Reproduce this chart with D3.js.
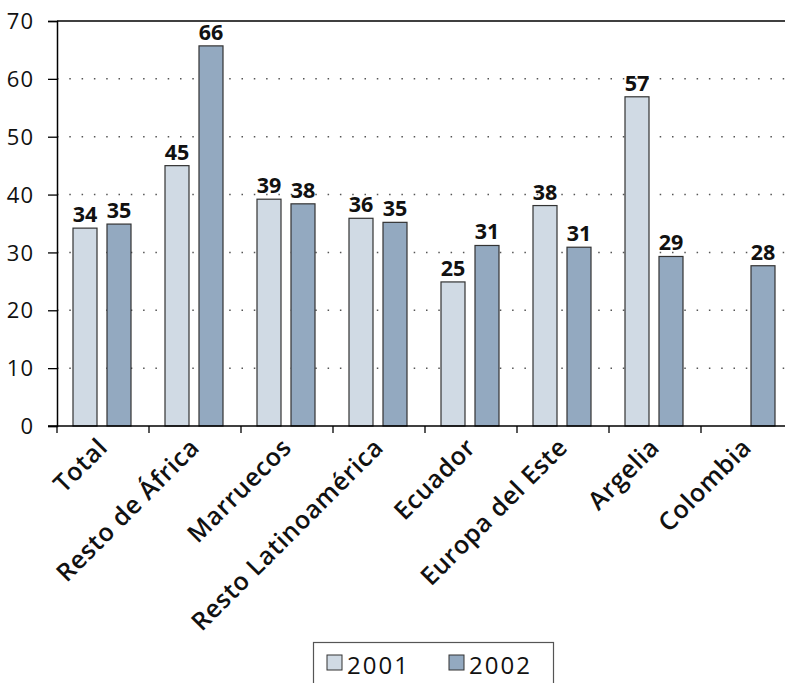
<!DOCTYPE html>
<html><head><meta charset="utf-8">
<script src="https://cdn.jsdelivr.net/npm/d3@7"></script>
<style>
html,body{margin:0;padding:0;background:#fff;}
svg{display:block;}
</style></head>
<body>
<svg id="chart" width="785" height="683"></svg>
<script>
const categories = ["Total","Resto de África","Marruecos","Resto Latinoamérica","Ecuador","Europa del Este","Argelia","Colombia"];
const values2001 = [34.2, 45.0, 39.2, 35.9, 24.9, 38.1, 56.9, null];
const values2002 = [34.9, 65.7, 38.4, 35.2, 31.2, 30.9, 29.3, 27.7];
const seriesNames = ["2001","2002"];
const yTicks = [0,10,20,30,40,50,60,70];
const colors = ["#d0dae4","#93a9c0"];

(function(){
const svg = d3.select("#chart");
const mLeft = 57, mTop = 21, mBottom = 426, band = 92;
const x = d3.scaleBand().domain(categories).range([mLeft, mLeft + band*categories.length]).paddingInner(0).paddingOuter(0);
const y = d3.scaleLinear().domain([0,70]).range([mBottom, mTop]);

// gridlines
svg.append("g").selectAll("line").data(yTicks.filter(t=>t>0 && t<70)).join("line")
  .attr("x1", mLeft).attr("x2", 785).attr("y1", d=>y(d)).attr("y2", d=>y(d))
  .attr("stroke","#555").attr("stroke-width",1.5).attr("stroke-dasharray","1.5,10.8");
// top border
svg.append("line").attr("x1", mLeft).attr("x2", 785).attr("y1", y(70)).attr("y2", y(70)).attr("stroke","#000").attr("stroke-width",1.5);

// y axis
const yAxis = d3.axisLeft(y).tickValues(yTicks).tickSize(9).tickPadding(14).tickFormat(d3.format("d"));
const gy = svg.append("g").attr("transform",`translate(${mLeft},0)`).call(yAxis);
gy.select(".domain").attr("stroke","#000").attr("stroke-width",1.5);
gy.selectAll(".tick line").attr("stroke","#000").attr("stroke-width",1.3);
gy.selectAll("text").attr("font-family","'Open Sans', sans-serif").attr("font-size",22).attr("letter-spacing","1px")
  .attr("fill","#111").attr("dy","0.35em");

// bars
const sub = d3.scaleOrdinal().domain(seriesNames).range([16, 50]);
const barW = 24;
const data = [];
categories.forEach((c,i)=>{
  [values2001[i], values2002[i]].forEach((v,j)=>{ if(v!=null) data.push({c, s:seriesNames[j], v, j}); });
});
svg.append("g").selectAll("rect").data(data).join("rect")
  .attr("x", d=>x(d.c)+sub(d.s)).attr("width", barW)
  .attr("y", d=>y(d.v)).attr("height", d=>mBottom - y(d.v))
  .attr("fill", d=>colors[d.j]).attr("stroke","#333").attr("stroke-width",1.2);

// value labels
svg.append("g").selectAll("text").data(data).join("text")
  .attr("x", d=>x(d.c)+sub(d.s)+barW/2).attr("y", d=>y(d.v)-6)
  .attr("text-anchor","middle").attr("font-family","'Noto Sans', sans-serif").attr("font-weight","bold")
  .attr("font-size",21.5).attr("fill","#111").text(d=>Math.round(d.v));

// x axis
const xAxis = d3.axisBottom(x).tickSize(0).tickFormat(d=>d);
const gx = svg.append("g").attr("transform",`translate(0,${mBottom})`).call(xAxis);
gx.select(".domain").remove();
svg.append("line").attr("x1", mLeft-9).attr("x2", 785).attr("y1", mBottom).attr("y2", mBottom).attr("stroke","#000").attr("stroke-width",1.5);
svg.append("g").selectAll("line").data(categories).join("line")
  .attr("x1", d=>x(d)).attr("x2", d=>x(d)).attr("y1", mBottom).attr("y2", mBottom+7)
  .attr("stroke","#000").attr("stroke-width",1.3);
gx.selectAll(".tick text")
  .attr("font-family","'Open Sans', sans-serif").attr("font-weight","600").attr("font-size",25).attr("letter-spacing","0.6px")
  .attr("fill","#111")
  .attr("text-anchor","end").attr("dy",0).attr("y",0)
  .attr("transform","translate(6,23) rotate(-45)");

// legend
const lg = svg.append("g");
lg.append("rect").attr("x",313.5).attr("y",642.5).attr("width",240).attr("height",45).attr("fill","#fff").attr("stroke","#555").attr("stroke-width",1.2);
seriesNames.forEach((s,i)=>{
  const lx = 327 + i*122;
  lg.append("rect").attr("x",lx).attr("y",655).attr("width",15).attr("height",15).attr("fill",colors[i]).attr("stroke","#333").attr("stroke-width",1);
  lg.append("text").attr("x",lx+20).attr("y",674).attr("font-family","'Open Sans', sans-serif").attr("font-size",24)
    .attr("letter-spacing","2px").attr("fill","#111").text(s);
});
})();
</script>
</body></html>
